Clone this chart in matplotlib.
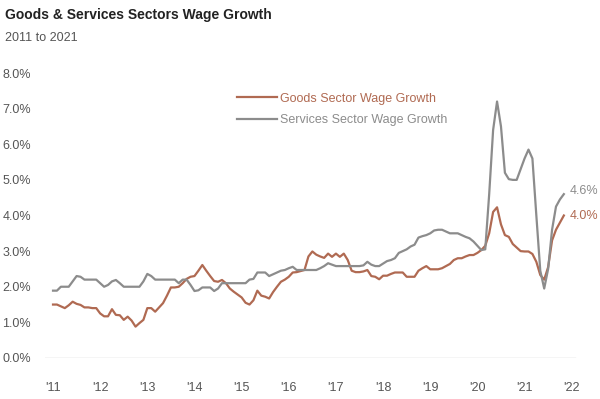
import matplotlib
matplotlib.use("Agg")
import matplotlib.pyplot as plt
import numpy as np

# monthly values, Jan 2011 .. Nov 2021
goods = [
    1.50, 1.50, 1.45, 1.40, 1.48, 1.58, 1.52, 1.49, 1.42, 1.42, 1.40, 1.40,
    1.25, 1.17, 1.17, 1.37, 1.21, 1.20, 1.07, 1.16, 1.05, 0.88, 0.98, 1.07,
    1.40, 1.40, 1.30, 1.42, 1.54, 1.75, 1.98, 1.98, 2.00, 2.10, 2.22, 2.28,
    2.30, 2.45, 2.61, 2.45, 2.30, 2.16, 2.14, 2.19, 2.10, 1.95, 1.86, 1.78,
    1.70, 1.55, 1.50, 1.62, 1.89, 1.75, 1.72, 1.67, 1.85, 2.00, 2.14, 2.20,
    2.28, 2.40, 2.41, 2.44, 2.47, 2.85, 2.99, 2.90, 2.85, 2.81, 2.93, 2.84,
    2.93, 2.84, 2.93, 2.75, 2.45, 2.41, 2.41, 2.43, 2.47, 2.30, 2.28, 2.21,
    2.31, 2.31, 2.36, 2.40, 2.40, 2.40, 2.28, 2.28, 2.28, 2.45, 2.52, 2.58,
    2.49, 2.49, 2.49, 2.52, 2.58, 2.64, 2.75, 2.80, 2.80, 2.85, 2.89, 2.89,
    2.95, 3.03, 3.15, 3.50, 4.10, 4.23, 3.75, 3.45, 3.40, 3.20, 3.10, 3.00,
    2.99, 2.99, 2.92, 2.70, 2.33, 2.20, 2.55, 3.30, 3.60, 3.80, 4.00,
]
services = [
    1.89, 1.89, 2.00, 2.00, 2.00, 2.15, 2.30, 2.28, 2.20, 2.20, 2.20, 2.20,
    2.10, 2.00, 2.05, 2.15, 2.19, 2.10, 2.00, 2.00, 2.00, 2.00, 2.00, 2.15,
    2.36, 2.30, 2.20, 2.20, 2.20, 2.20, 2.20, 2.20, 2.10, 2.20, 2.20, 2.05,
    1.88, 1.90, 1.98, 1.98, 1.98, 1.88, 1.95, 2.10, 2.10, 2.10, 2.10, 2.10,
    2.10, 2.10, 2.20, 2.22, 2.40, 2.40, 2.40, 2.30, 2.35, 2.40, 2.45, 2.47,
    2.52, 2.56, 2.47, 2.47, 2.47, 2.47, 2.47, 2.47, 2.52, 2.58, 2.66, 2.62,
    2.58, 2.58, 2.58, 2.58, 2.58, 2.58, 2.58, 2.60, 2.70, 2.62, 2.58, 2.58,
    2.65, 2.72, 2.75, 2.80, 2.95, 3.00, 3.05, 3.13, 3.18, 3.38, 3.42, 3.45,
    3.50, 3.58, 3.60, 3.60, 3.55, 3.50, 3.50, 3.50, 3.45, 3.40, 3.36, 3.27,
    3.15, 3.03, 3.05, 4.60, 6.40, 7.20, 6.50, 5.20, 5.02, 5.00, 5.00, 5.30,
    5.60, 5.85, 5.60, 4.00, 2.45, 1.95, 2.50, 3.60, 4.25, 4.45, 4.60,
]
years = list(range(2011, 2023))
year_labels = ["'" + str(y)[2:] for y in years]
y_ticks = [0, 1, 2, 3, 4, 5, 6, 7, 8]

t = 2011 + np.arange(len(goods)) / 12

brown = "#b06a52"
grey = "#8c8c8c"
plt.rcParams["font.family"] = ["Liberation Sans", "DejaVu Sans"]

fig = plt.figure(figsize=(6, 3.99), dpi=100)
ax = fig.add_axes([0.075, 0.1028, 0.925, 0.7142])

ax.plot(t, goods, color=brown, lw=1.6, label="Goods Sector Wage Growth")
ax.plot(t, services, color=grey, lw=1.6, label="Services Sector Wage Growth")

ax.set_xlim(2010.83, 2022.6)
ax.set_ylim(0, 8)
ax.set_xticks(years)
ax.set_xticklabels(year_labels)
ax.set_yticks(y_ticks)
ax.set_yticklabels([f"{v:.1f}%" for v in y_ticks])
ax.tick_params(length=0, labelsize=9, colors="#555555")
ax.tick_params(axis="x", pad=17)
ax.tick_params(axis="y", pad=10)
for s in ax.spines.values():
    s.set_visible(False)
ax.axhline(0, xmin=0, xmax=0.955, color="#d0d0d0", lw=1)

ax.text(t[-1] + 0.12, services[-1] + 0.1, f"{services[-1]:.1f}%", color=grey,
        fontsize=9, va="center")
ax.text(t[-1] + 0.12, goods[-1] - 0.02, f"{goods[-1]:.1f}%", color=brown,
        fontsize=9, va="center")

ax.legend(loc="upper left", bbox_to_anchor=(0.325, 0.97), frameon=False,
          labelcolor="linecolor", fontsize=9, handlelength=3.2,
          handletextpad=0.3, labelspacing=0.75)

fig.text(0.008, 0.962, "Goods & Services Sectors Wage Growth", fontsize=10,
         fontweight="bold", color="#222222", va="center")
fig.text(0.008, 0.905, "2011 to 2021", fontsize=9, color="#555555", va="center")

fig.savefig("out.png", dpi=100)
